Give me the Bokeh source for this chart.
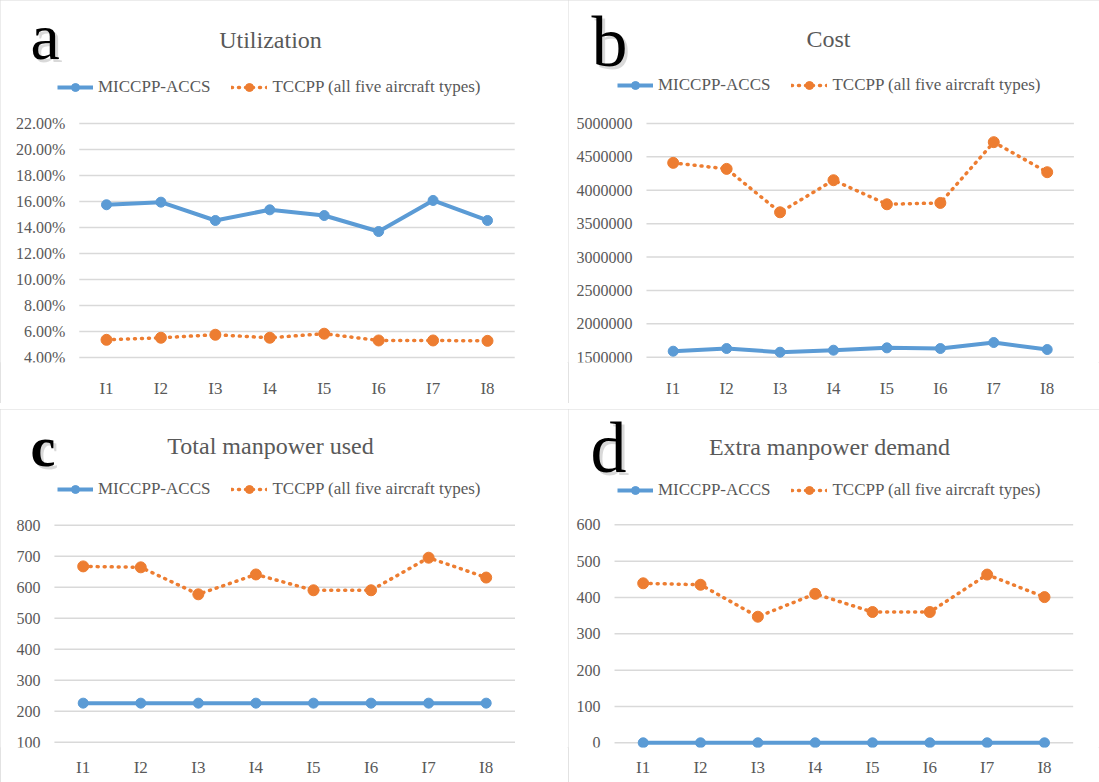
from bokeh.plotting import figure
from bokeh.models import Label, Legend, LegendItem, FixedTicker, PrintfTickFormatter, Range1d
from bokeh.layouts import column, row
from bokeh.embed import file_html
from bokeh.resources import INLINE

# ---------------- data ----------------
categories = ["I1", "I2", "I3", "I4", "I5", "I6", "I7", "I8"]
series_names = ["MICCPP-ACCS", "TCCPP (all five aircraft types)"]

util_miccpp = [15.75, 15.95, 14.54, 15.36, 14.92, 13.69, 16.08, 14.54]
util_tccpp = [5.36, 5.52, 5.75, 5.52, 5.83, 5.31, 5.31, 5.28]

cost_miccpp = [1590000, 1630000, 1575000, 1605000, 1640000, 1630000, 1720000, 1615000]
cost_tccpp = [4410000, 4320000, 3670000, 4150000, 3790000, 3810000, 4720000, 4270000]

total_miccpp = [226, 226, 226, 226, 226, 226, 226, 226]
total_tccpp = [667, 664, 577, 641, 590, 590, 695, 631]

extra_miccpp = [0, 0, 0, 0, 0, 0, 0, 0]
extra_tccpp = [439, 435, 347, 410, 360, 360, 463, 401]

util_ticks = [4, 6, 8, 10, 12, 14, 16, 18, 20, 22]
cost_ticks = [1500000, 2000000, 2500000, 3000000, 3500000, 4000000, 4500000, 5000000]
total_ticks = [100, 200, 300, 400, 500, 600, 700, 800]
extra_ticks = [0, 100, 200, 300, 400, 500, 600]

titles = ["Utilization", "Cost", "Total manpower used", "Extra manpower demand"]
letters = ["a", "b", "c", "d"]

# category positions 1..N on a numeric axis, labelled with the category names
x_pos = list(range(1, len(categories) + 1))
x_labels = {i: c for i, c in zip(x_pos, categories)}

# ---------------- style ----------------
BLUE = "#5B9BD5"
ORANGE = "#ED7D31"
GRAY_TEXT = "#595959"
GRID = "#d9d9d9"
FONT = "Liberation Serif"


def panel(title, letter, s1, s2, ticks, fmt, box, bottom_border,
          cat_px, grid_py, title_pg, letter_pg, letter_size, letter_style,
          legend_pg, x_standoff):
    """box = (left, top, width, height) of the figure on the page;
    cat_px = page x of first / last category; grid_py = page y of top / bottom tick."""
    fl, ft, w, h = box
    fb = ft + h - bottom_border            # page y of frame bottom
    fr = fl + w
    # x range so that categories land where the reference has them
    s = (cat_px[1] - cat_px[0]) / (len(categories) - 1)
    x_lo = x_pos[0] - (cat_px[0] - fl) / s
    x_hi = x_pos[-1] + (fr - cat_px[1]) / s
    # y range so that the ticks land where the reference has them
    t_top, t_bot = max(ticks), min(ticks)
    k = (grid_py[1] - grid_py[0]) / (t_top - t_bot)
    y_lo = t_bot - (fb - grid_py[1]) / k
    y_hi = t_top + (grid_py[0] - ft) / k

    p = figure(x_range=Range1d(x_lo, x_hi), y_range=Range1d(y_lo, y_hi),
               width=w, height=h, output_backend="svg", toolbar_location=None,
               min_border_left=0, min_border_right=0, min_border_top=0,
               min_border_bottom=bottom_border,
               styles={"outline": "1px solid #d9d9d9", "outline-offset": "-1px"})
    p.outline_line_color = None
    p.background_fill_color = "white"
    p.border_fill_color = "white"
    p.xgrid.visible = False
    p.ygrid.visible = False

    # horizontal gridlines over the category band only
    edge_lo = x_pos[0] - 0.5
    edge_hi = x_pos[-1] + 0.5
    p.segment(x0=[edge_lo] * len(ticks), x1=[edge_hi] * len(ticks), y0=ticks, y1=ticks,
              line_color=GRID, line_width=1.5)

    p.yaxis.ticker = FixedTicker(ticks=ticks)
    p.yaxis.formatter = fmt
    p.yaxis.fixed_location = edge_lo
    p.xaxis.ticker = FixedTicker(ticks=x_pos)
    p.xaxis.major_label_overrides = x_labels
    for ax in (p.xaxis[0], p.yaxis[0]):
        ax.axis_line_color = None
        ax.major_tick_line_color = None
        ax.minor_tick_line_color = None
        ax.major_label_text_font = FONT
        ax.major_label_text_color = GRAY_TEXT
    p.yaxis.major_label_text_font_size = "16px"
    p.xaxis.major_label_text_font_size = "17px"
    p.yaxis.major_label_standoff = 8
    p.xaxis.major_label_standoff = x_standoff

    l1 = p.line(x_pos, s1, line_color=BLUE, line_width=4, line_join="round")
    m1 = p.scatter(x_pos, s1, size=10, fill_color=BLUE, line_color=BLUE)
    l2 = p.line(x_pos, s2, line_color=ORANGE, line_width=3.5,
                line_dash="1 6", line_cap="round")
    m2 = p.scatter(x_pos, s2, size=11, fill_color=ORANGE, line_color=ORANGE)

    legend = Legend(items=[LegendItem(label=series_names[0], renderers=[l1, m1]),
                           LegendItem(label=series_names[1], renderers=[l2, m2])],
                    orientation="horizontal",
                    location=(legend_pg[0] - fl, fb - legend_pg[1]),
                    padding=0, margin=0, spacing=21, label_standoff=5,
                    glyph_width=36, glyph_height=20, label_height=20,
                    label_text_font=FONT, label_text_font_size="17px",
                    label_text_color=GRAY_TEXT,
                    background_fill_alpha=0, border_line_color=None)
    p.add_layout(legend, "center")

    p.add_layout(Label(x=title_pg[0] - fl, y=fb - title_pg[1], x_units="screen", y_units="screen",
                       text=title, text_font=FONT, text_font_size="24px",
                       text_color=GRAY_TEXT, text_align="center",
                       text_baseline="alphabetic"))
    lx, ly = letter_pg[0] - fl, fb - letter_pg[1]
    fs = "%dpx" % letter_size
    p.add_layout(Label(x=lx + 3, y=ly - 3, x_units="screen", y_units="screen",
                       text=letter, text_font=FONT, text_font_size=fs,
                       text_font_style=letter_style,
                       text_color="#000000", text_alpha=0.15, text_baseline="alphabetic"))
    p.add_layout(Label(x=lx, y=ly, x_units="screen", y_units="screen",
                       text=letter, text_font=FONT, text_font_size=fs,
                       text_font_style=letter_style,
                       text_color="#000000", text_baseline="alphabetic"))
    return p


pa = panel(titles[0], letters[0], util_miccpp, util_tccpp, util_ticks,
           PrintfTickFormatter(format="%.2f%%"),
           (0, 0, 568, 403), 41, (106, 487), (123, 357),
           (270, 39), (30, 36), 66, "normal", (57, 97), 10)
pb = panel(titles[1], letters[1], cost_miccpp, cost_tccpp, cost_ticks,
           PrintfTickFormatter(format="%d"),
           (568, 0, 531, 403), 40, (672.7, 1046.7), (123.3, 357.7),
           (828, 39), (591, 42), 72, "normal", (617, 96), 10)
pc = panel(titles[2], letters[2], total_miccpp, total_tccpp, total_ticks,
           PrintfTickFormatter(format="%d"),
           (0, 409, 568, 373), 34, (82.7, 485.7), (525, 742.7),
           (270, 446), (30, 447), 56, "bold", (57, 500), 4)
pd = panel(titles[3], letters[3], extra_miccpp, extra_tccpp, extra_ticks,
           PrintfTickFormatter(format="%d"),
           (568, 409, 531, 373), 35, (642.7, 1044), (524.3, 742.3),
           (829, 446), (590, 447), 72, "normal", (617, 500), 4)

layout = column(row(pa, pb), row(pc, pd), spacing=6)

open("out.html", "w").write(file_html(layout, INLINE))
